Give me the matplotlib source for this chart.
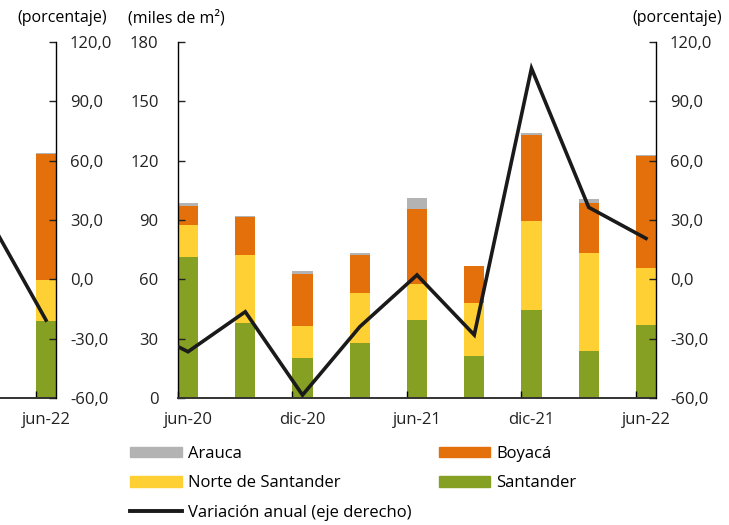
import matplotlib.pyplot as plt
from matplotlib.patches import Patch
from matplotlib.lines import Line2D
import numpy as np

plt.rcParams.update({"font.family": "Open Sans", "font.size": 12})

# datos (miles de m2 y porcentaje)
periodos = ['jun-20', 'sep-20', 'dic-20', 'mar-21', 'jun-21', 'sep-21', 'dic-21', 'mar-22', 'jun-22']
santander = [71.1, 38.1, 20.1, 27.8, 39.4, 21.2, 44.5, 23.8, 36.8]
norte = [16.4, 34.4, 16.1, 25.3, 18.4, 26.7, 45.0, 49.3, 29.1]
boyaca = [9.7, 18.9, 26.7, 19.4, 37.9, 18.7, 43.5, 25.6, 56.6]
arauca = [1.2, 0.5, 1.1, 0.6, 5.3, 0.0, 1.1, 1.7, 0.3]
# variacion anual; el primer valor (mar-20) queda fuera del eje
variacion = [-22.0, -36.6, -16.4, -58.5, -24.0, 2.2, -28.1, 106.7, 36.4, 20.7]

# resto del grafico anterior (recortado a la izquierda)
prev_santander = [38.9]
prev_norte = [20.8]
prev_boyaca = [63.7]
prev_arauca = [0.5]
prev_variacion = [31.0, -20.6]

c_ara, c_boy, c_nor, c_san = '#b3b3b3', '#e4700b', '#fed033', '#86a024'
c_lin = '#1a1a1a'

W, H = 729, 525
fig = plt.figure(figsize=(W / 100, H / 100), dpi=100)

def px(x0, y0, x1, y1):
    return [x0 / W, 1 - y1 / H, (x1 - x0) / W, (y1 - y0) / H]

bw = 0.35
n = len(periodos)
x = np.arange(n)

def barras(ax, xs, s, nn, b, a):
    s, nn, b, a = map(np.asarray, (s, nn, b, a))
    ax.bar(xs, s, bw, color=c_san)
    ax.bar(xs, nn, bw, bottom=s, color=c_nor)
    ax.bar(xs, b, bw, bottom=s + nn, color=c_boy)
    ax.bar(xs, a, bw, bottom=s + nn + b, color=c_ara)

def estilo(ax, ax2):
    ax.set_ylim(0, 180)
    ax2.set_ylim(-60, 120)
    ax2.set_yticks(np.arange(-60, 121, 30))
    ax2.set_yticklabels([f'{v:.1f}'.replace('.', ',') for v in np.arange(-60, 121, 30)])
    for s in ['top']:
        ax.spines[s].set_visible(False)
        ax2.spines[s].set_visible(False)
    ax.spines['right'].set_visible(False)
    ax2.spines['left'].set_visible(False)
    ax2.spines['bottom'].set_visible(False)
    ax.spines['bottom'].set_linewidth(1.4)
    ax.spines['bottom'].set_color('#333333')
    ax2.spines['right'].set_linewidth(1.0)
    ax2.tick_params(axis='y', direction='in', length=5, width=1, pad=10, colors='#222222')

# ---- grafico principal ----
ax = fig.add_axes(px(178, 42, 656, 398))
ax2 = ax.twinx()
barras(ax, x, santander, norte, boyaca, arauca)
ax2.plot(np.arange(-1, n), variacion, color=c_lin, lw=2.6, solid_joinstyle='miter', clip_on=True)
xl = (-bw / 2, n - 1 + bw / 2)
ax.set_xlim(*xl)
ax2.set_xlim(*xl)
estilo(ax, ax2)
ax.set_yticks(np.arange(0, 181, 30))
ax.spines['left'].set_linewidth(1.0)
ax.tick_params(axis='y', direction='in', length=5, width=1, pad=14, colors='#222222')
ax.set_xticks(x[::2], periodos[::2])
ax.tick_params(axis='x', length=0, pad=10, colors='#222222')
ax.set_xticks(x[::2] - bw / 2, minor=True)
ax.tick_params(axis='x', which='minor', direction='in', length=5, width=1)

fig.text(128 / W, 1 - 18 / H, '(miles de m²)', ha='left', va='center', fontsize=11.5)
fig.text(722 / W, 1 - 18 / H, '(porcentaje)', ha='right', va='center', fontsize=11.5)

# ---- resto del grafico anterior ----
u = 478 / (xl[1] - xl[0])  # pixeles por unidad
axp = fig.add_axes(px(0, 42, 56, 398))
axp2 = axp.twinx()
barras(axp, [n - 1], prev_santander, prev_norte, prev_boyaca, prev_arauca)
axp2.plot([n - 2, n - 1], prev_variacion, color=c_lin, lw=2.6)
pl = (xl[1] - 56 / u, xl[1])
axp.set_xlim(*pl)
axp2.set_xlim(*pl)
estilo(axp, axp2)
axp.spines['left'].set_visible(False)
axp.set_yticks([])
axp.set_xticks([n - 1], [periodos[-1]])
axp.tick_params(axis='x', length=0, pad=10, colors='#222222')
axp.set_xticks([n - 1 - bw / 2], minor=True)
axp.tick_params(axis='x', which='minor', direction='in', length=5, width=1)
fig.text(107 / W, 1 - 18 / H, '(porcentaje)', ha='right', va='center', fontsize=11.5)

# ---- leyenda ----
handles = [Patch(color=c_ara), Patch(color=c_nor), Line2D([], [], color=c_lin, lw=2.8),
           Patch(color=c_boy), Patch(color=c_san)]
labels = ['Arauca', 'Norte de Santander', 'Variación anual (eje derecho)', 'Boyacá', 'Santander']
fig.legend(handles, labels, ncol=2, loc='upper left', bbox_to_anchor=(130 / W, 1 - 446 / H),
           frameon=False, handlelength=3.1, handleheight=0.6, handletextpad=0.35,
           columnspacing=1.65, labelspacing=0.8, borderaxespad=0, borderpad=0,
           fontsize=12)

fig.savefig('out.png', dpi=100)
